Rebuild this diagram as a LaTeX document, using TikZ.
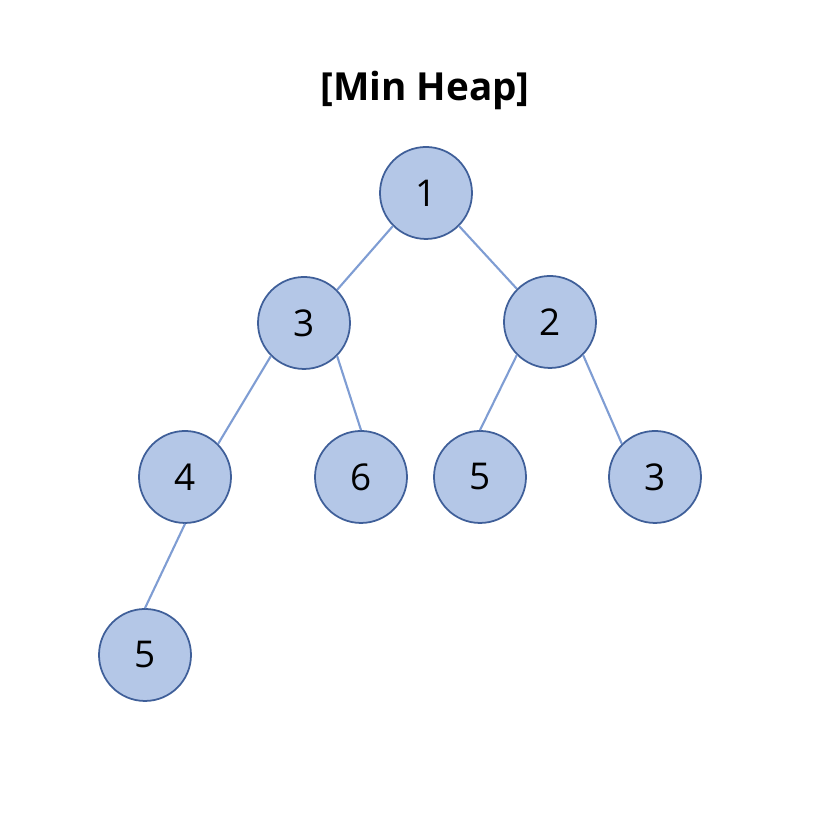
\documentclass[tikz,border=0pt]{standalone}
\usepackage{fontspec}
\setmainfont{Open Sans}
\begin{document}
\begin{tikzpicture}[x=1cm, y=1cm,
heapnode/.style={circle, draw=heapline, fill=heapfill, line width=.5pt, minimum size=.92cm, inner sep=0, font=\fontsize{10.5}{12}\selectfont},
heapedge/.style={draw=heapedge, line width=.6pt},
]
\definecolor{heapfill}{HTML}{B4C7E7}
\definecolor{heapline}{HTML}{3F5F99}
\definecolor{heapedge}{HTML}{7F9DD3}
%%%%%%%% SIZE OF THE PICTURE
\useasboundingbox (0,0) rectangle (8.36,8.18);
%%%%%%%% TITLE
\node[font=\bfseries\fontsize{11}{13}\selectfont] (title) at (4.25,7.28) {[Min Heap]};
%%%%%%%% NODES
\node[heapnode] (root) at (4.26,6.25) {1};
\node[heapnode] (L) at (3.04,4.95) {3};
\node[heapnode] (R) at (5.50,4.96) {2};
\node[heapnode] (LL) at (1.85,3.41) {4};
\node[heapnode] (LR) at (3.61,3.41) {6};
\node[heapnode] (RL) at (4.80,3.41) {5};
\node[heapnode] (RR) at (6.55,3.41) {3};
\node[heapnode] (LLL) at (1.45,1.63) {5};
%%%%%%%% EDGES
\path[heapedge] (root.south west) -- (L.north east);
\path[heapedge] (root.south east) -- (R.north west);
\path[heapedge] (L.south west) -- (LL.north east);
\path[heapedge] (L.south east) -- (LR.north);
\path[heapedge] (R.south west) -- (RL.north);
\path[heapedge] (R.south east) -- (RR.north west);
\path[heapedge] (LL.south) -- (LLL.north);
\end{tikzpicture}
\end{document}
